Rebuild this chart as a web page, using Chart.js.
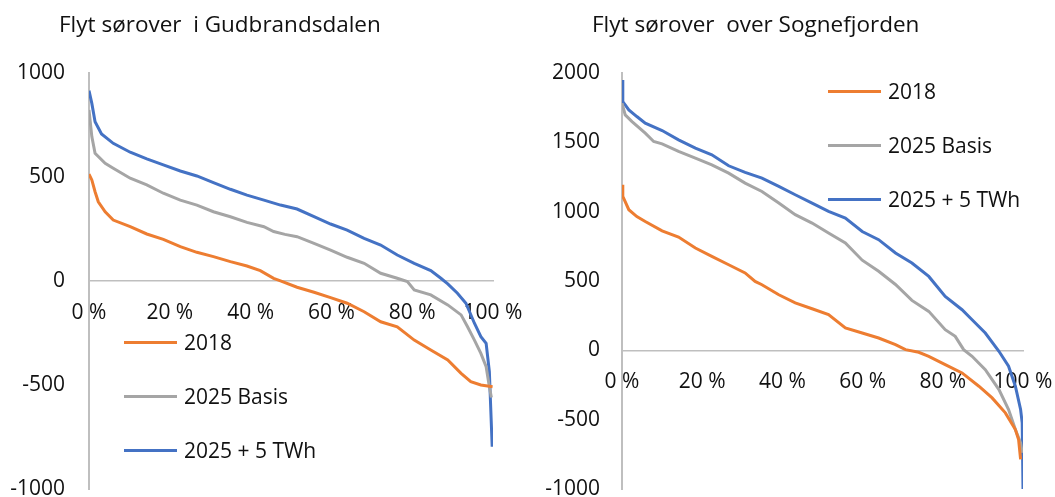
<!DOCTYPE html>
<html>
<head>
<meta charset="utf-8">
<script src="https://cdn.jsdelivr.net/npm/chart.js@4.4.0/dist/chart.umd.min.js"></script>
<style>
  body { margin: 0; background: #fff; font-family: "Open Sans", sans-serif; color: #111; }
  #wrap { position: relative; width: 1055px; height: 497px; overflow: hidden; }
  .box { position: absolute; top: 0; height: 497px; }
  .title { position: absolute; top: 11px; font-size: 22.5px; line-height: 26px; white-space: pre; }
  .item { position: absolute; display: flex; align-items: center; font-size: 21px; line-height: 24px; white-space: nowrap; }
  .swatch { width: 53px; height: 3px; margin-right: 7px; }
</style>
</head>
<body>
<div id="wrap">
  <div class="box" id="leftBox" style="left:0;width:530px">
    <canvas id="gud" width="530" height="497"></canvas>
    <div class="title" style="left:59px">Flyt sørover  i Gudbrandsdalen</div>
    <div id="gudLegend"></div>
  </div>
  <div class="box" id="rightBox" style="left:530px;width:525px">
    <canvas id="sog" width="525" height="497"></canvas>
    <div class="title" style="left:62px">Flyt sørover  over Sognefjorden</div>
    <div id="sogLegend"></div>
  </div>
</div>
<script>
// series names + colours
const seriesNames = ['2018', '2025 Basis', '2025 + 5 TWh'];
const seriesColors = ['#ED7D31', '#A5A5A5', '#4472C4'];

// Gudbrandsdalen (x = % of time, y = MW)
const gudX18 = [0, 0.7, 1.5, 2.3, 4, 6, 10.2, 14.3, 18.4, 22.6, 26.7, 30.8, 35, 39.1, 42.4, 45.7, 47.4, 51.5, 55.7, 59.8, 63.9, 68.1, 72.2, 76.3, 80.5, 84.6, 88.8, 92.1, 94.5, 97, 99.9];
const gud18 = [514, 486, 429, 381, 333, 293, 261, 226, 200, 165, 138, 117, 93, 72, 50, 13, 1, -30, -54, -80, -107, -148, -196, -220, -284, -332, -380, -444, -484, -500, -508];
const gudXBasis = [0, 0.7, 1.5, 4, 6, 10.2, 14.3, 18.4, 22.6, 26.7, 30.8, 35, 39.1, 43.3, 45.7, 48.5, 51.5, 55.7, 59.8, 63.9, 68.1, 72.2, 76.3, 78.8, 80.5, 84.6, 88.8, 92.1, 93.7, 95.4, 97, 98.3, 99.1, 99.6];
const gudBasis = [822, 694, 614, 566, 542, 494, 462, 422, 389, 365, 333, 309, 282, 261, 238, 224, 213, 181, 149, 114, 85, 37, 13, -3, -43, -67, -115, -163, -220, -284, -348, -412, -508, -560];
const gudXTwh = [0, 0.7, 1.5, 3.1, 6, 10.2, 14.3, 18.4, 22.6, 26.7, 30.8, 35, 39.1, 43.3, 47.4, 51.5, 55.7, 59.8, 63.9, 68.1, 72.2, 76.3, 80.5, 84.6, 87.1, 88.8, 91.2, 93.3, 95.4, 97, 98.3, 99.1, 99.3, 99.8];
const gudTwh = [915, 854, 766, 707, 662, 619, 587, 558, 529, 505, 473, 441, 413, 389, 365, 346, 309, 274, 245, 205, 173, 125, 85, 50, 13, -14, -59, -107, -203, -268, -300, -436, -540, -797];

// Sognefjorden
const sogX18 = [0, 0.2, 1.7, 3.7, 5.8, 10, 14.1, 18.3, 22.4, 26.6, 30.7, 33.2, 34.9, 39.1, 43.2, 47.4, 51.5, 55.7, 59.9, 64, 68.2, 70.7, 74, 76.5, 80.6, 84.8, 89, 92.3, 95.6, 98.1, 98.9, 99.4];
const sog18 = [1194, 1110, 1014, 965, 929, 862, 817, 738, 677, 617, 558, 497, 473, 401, 342, 300, 257, 161, 125, 89, 41, 5, -14, -43, -103, -163, -259, -343, -451, -571, -643, -787];
const sogXBasis = [0, 0.8, 2.5, 5.8, 7.9, 10, 14.1, 18.3, 22.4, 26.6, 30.7, 34.9, 39.1, 43.2, 47.4, 51.5, 55.7, 59.9, 64, 68.2, 72.3, 76.5, 80.6, 83.1, 85.2, 87.3, 90.6, 94, 96.4, 98.1, 99.4, 99.8];
const sogBasis = [1782, 1698, 1650, 1566, 1506, 1489, 1434, 1386, 1338, 1278, 1206, 1146, 1062, 978, 918, 846, 774, 650, 570, 475, 360, 281, 149, 101, 5, -43, -139, -283, -427, -571, -667, -739];
const sogXTwh = [0, 0.2, 1.7, 3.7, 5.8, 10, 14.1, 18.3, 22.4, 26.6, 30.7, 34.9, 39.1, 43.2, 47.4, 51.5, 55.7, 59.9, 64, 68.2, 72.3, 76.5, 80.6, 84.8, 87.3, 90.6, 94, 96.4, 98.1, 99.4, 99.8, 100];
const sogTwh = [1950, 1794, 1734, 1686, 1638, 1585, 1518, 1458, 1410, 1331, 1283, 1242, 1182, 1122, 1062, 1002, 954, 857, 798, 702, 630, 533, 389, 293, 221, 125, -7, -115, -259, -427, -523, -1000];

// x-axis ticks
const xTicks = [0, 20, 40, 60, 80, 100];

const axisGrey = '#BFBFBF';
Chart.defaults.font.family = '"Open Sans", sans-serif';
Chart.defaults.font.size = 21;
Chart.defaults.color = '#111';

function pairs(xs, ys) {
  return xs.map((x, i) => ({ x: x, y: ys[i] }));
}

// keep the plot area exactly where the layout padding puts it
function noPad(s) {
  s.paddingLeft = 0; s.paddingRight = 0; s.paddingTop = 0; s.paddingBottom = 0;
}

function makeChart(canvasId, lists, yMin, yMax, yAxisWidth, yPad, padRight) {
  const datasets = lists.map((l, i) => ({
    label: seriesNames[i],
    data: pairs(l[0], l[1]),
    borderColor: seriesColors[i],
    backgroundColor: seriesColors[i],
    borderWidth: 3,
    pointRadius: 0,
    tension: 0,
    fill: false
  }));
  return new Chart(document.getElementById(canvasId), {
    type: 'line',
    data: { datasets: datasets },
    options: {
      responsive: false,
      animation: false,
      layout: { padding: { left: 0, top: 73, right: padRight, bottom: 8 } },
      plugins: { legend: { display: false }, tooltip: { enabled: false } },
      scales: {
        x: {
          type: 'linear',
          min: 0, max: 100,
          position: { y: 0 },
          afterFit: s => { s.height = 0; noPad(s); },
          afterBuildTicks: s => { s.ticks = xTicks.map(v => ({ value: v })); },
          ticks: { padding: 19, autoSkip: false, maxRotation: 0, callback: v => v + ' %' },
          grid: { display: false, drawTicks: false },
          border: { color: axisGrey, width: 1.5 }
        },
        y: {
          min: yMin, max: yMax,
          afterFit: s => { s.width = yAxisWidth; noPad(s); },
          ticks: { stepSize: 500, padding: yPad, callback: v => String(v) },
          grid: { display: false, drawTicks: false },
          border: { color: axisGrey, width: 2 }
        }
      }
    }
  });
}

function makeLegend(holderId, left, tops) {
  const holder = document.getElementById(holderId);
  seriesNames.forEach((name, i) => {
    const item = document.createElement('div');
    item.className = 'item';
    item.style.left = left + 'px';
    item.style.top = (tops[i] - 12) + 'px';
    const sw = document.createElement('div');
    sw.className = 'swatch';
    sw.style.background = seriesColors[i];
    const tx = document.createElement('span');
    tx.textContent = name;
    item.appendChild(sw);
    item.appendChild(tx);
    holder.appendChild(item);
  });
}

makeChart('gud', [[gudX18, gud18], [gudXBasis, gudBasis], [gudXTwh, gudTwh]], -1000, 1000, 89, 24, 37);
makeChart('sog', [[sogX18, sog18], [sogXBasis, sogBasis], [sogXTwh, sogTwh]], -1000, 2000, 92, 22, 32);

makeLegend('gudLegend', 124, [342, 396, 450]);
makeLegend('sogLegend', 298, [91, 145, 199]);
</script>
</body>
</html>
